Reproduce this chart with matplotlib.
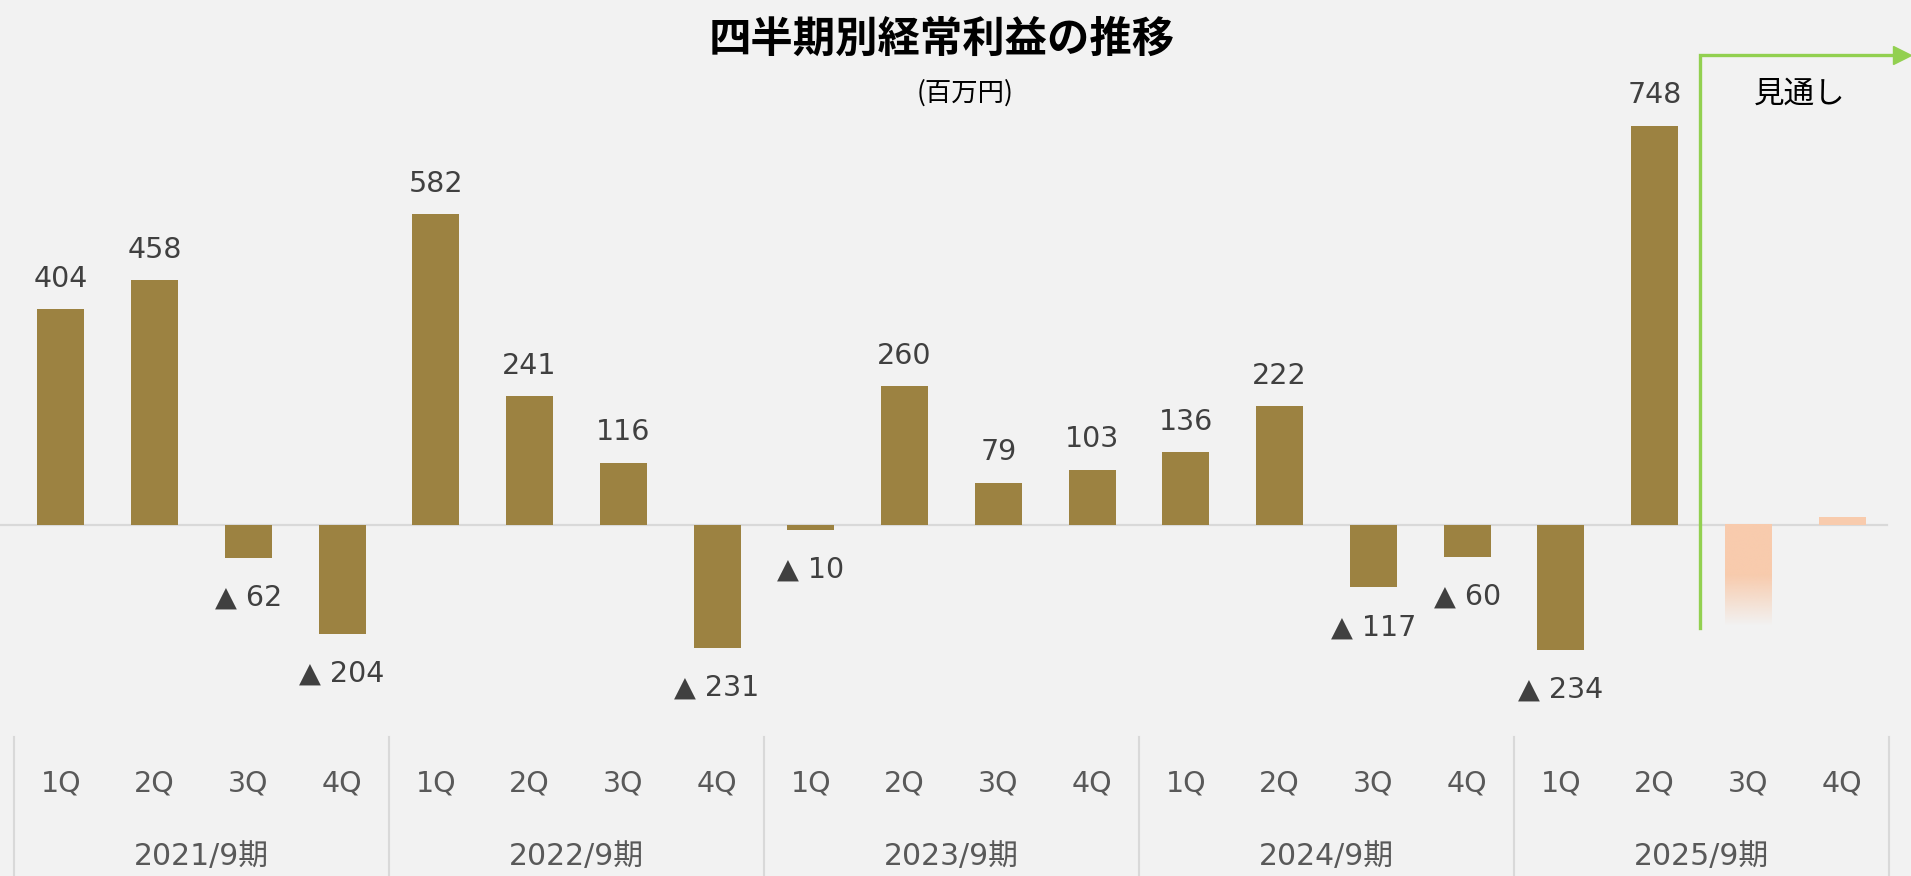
import numpy as np
import matplotlib
matplotlib.use("Agg")
import matplotlib.pyplot as plt
from matplotlib.colors import to_rgb

plt.rcParams['font.family'] = ['Noto Sans CJK JP', 'DejaVu Sans']
LAT = ['DejaVu Sans', 'Noto Sans CJK JP']  # wide latin digits, CJK fallback

# data (百万円)
quarters = ['1Q', '2Q', '3Q', '4Q']
periods = ['2021/9期', '2022/9期', '2023/9期', '2024/9期', '2025/9期']
actual = [404, 458, -62, -204,
          582, 241, 116, -231,
          -10, 260, 79, 103,
          136, 222, -117, -60,
          -234, 748]
forecast = [-190, 15]  # 2025/9期 3Q, 4Q (見通し)

BG = '#F2F2F2'
BAR = '#9C8241'
FC = '#F8CBAD'
GREEN = '#92D050'
TXT = '#404040'
GRID = '#D9D9D9'

fig = plt.figure(figsize=(19.11, 8.76), dpi=100, facecolor=BG)
ax = fig.add_axes([0, 0, 1, 1])
ax.set_facecolor(BG)
ax.axis('off')

n_act = len(actual)
x_act = np.arange(n_act)
x_fc = np.arange(n_act, n_act + len(forecast))
w = 0.5

ax.bar(x_act, actual, width=w, color=BAR, zorder=3)

# value labels
for x, v in zip(x_act, actual):
    if v >= 0:
        ax.annotate(f'{v}', (x, v), xytext=(0, 22), textcoords='offset points',
                    ha='center', va='center', fontsize=20.5, color=TXT, family=LAT)
    else:
        ax.annotate(f'▲ {abs(v)}', (x, v), xytext=(0, -28.5), textcoords='offset points',
                    ha='center', va='center', fontsize=20.5, color=TXT, family=LAT)

# forecast bars: 3Q fades out, 4Q small solid
rgb = to_rgb(FC)
v3 = forecast[0]
grad = np.ones((100, 1, 4))
grad[:, 0, :3] = rgb
t = np.linspace(0, 1, 100)
grad[:, 0, 3] = np.clip(1 - (t - 0.5) / 0.5, 0, 1)
ax.imshow(grad, extent=[x_fc[0] - w / 2, x_fc[0] + w / 2, v3, 0],
          aspect='auto', origin='upper', zorder=3, interpolation='bilinear')
ax.bar(x_fc[1:], forecast[1:], width=w, color=FC, zorder=3)
ax.set_xlim(-0.649, 19.735)
ax.set_ylim(-657.3, 983.1)

# zero line
ax.plot([-0.64, 19.48], [0, 0], color=GRID, lw=1.6, zorder=2)

# category axis
tr = ax.get_xaxis_transform()
all_x = np.arange(len(periods) * len(quarters))
for i, x in enumerate(all_x):
    ax.text(x, 0.106, quarters[i % 4], transform=tr, ha='center', va='center',
            fontsize=20.5, color='#595959', family=LAT)
for j, p in enumerate(periods):
    ax.text(j * 4 + 1.5, 0.022, p, transform=tr, ha='center', va='center',
            fontsize=21.5, color='#595959', family=LAT)
for j in range(len(periods) + 1):
    ax.plot([j * 4 - 0.5] * 2, [0, 0.159], transform=tr, color=GRID, lw=1.5,
            clip_on=False)

# forecast arrow
ax.plot([17.48, 17.48, 19.62], [-193, 880, 880], color=GREEN, lw=2.4,
        solid_joinstyle='miter', zorder=4, clip_on=False)
ax.plot([19.64], [880], marker='>', markersize=13, color=GREEN, zorder=4,
        clip_on=False)
ax.text(18.55, 0.893, '見通し', transform=tr, ha='center', va='center',
        fontsize=22, color='black')

# titles
fig.text(0.493, 0.955, '四半期別経常利益の推移', ha='center', va='center',
         fontsize=30.5, fontweight='bold', color='black')
fig.text(0.505, 0.894, '(百万円)', ha='center', va='center',
         fontsize=19, color='black')

fig.savefig('out.png', dpi=100, facecolor=BG)
